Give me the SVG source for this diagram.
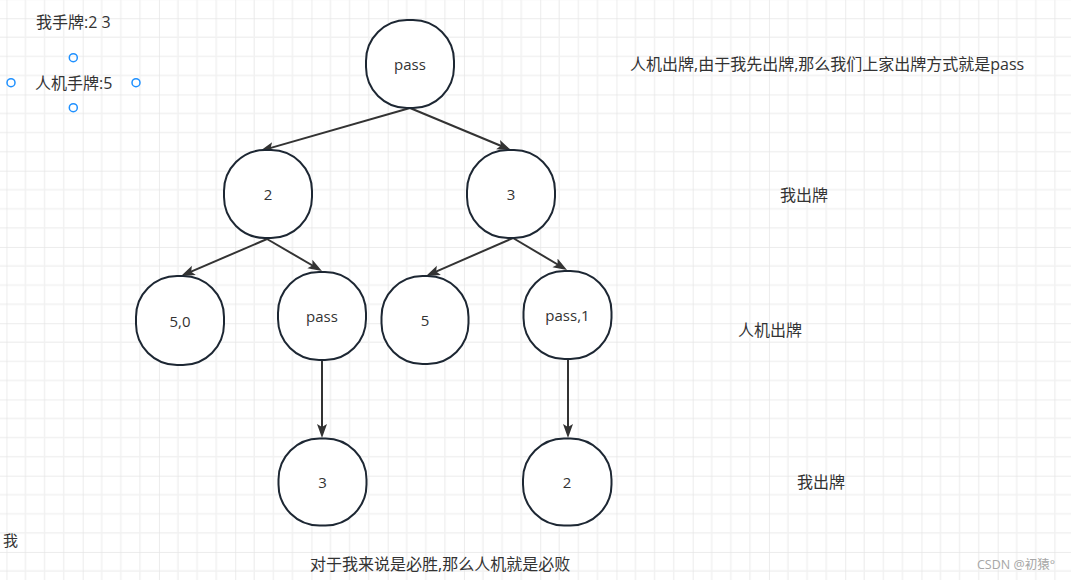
<svg xmlns="http://www.w3.org/2000/svg" width="1071" height="580" viewBox="0 0 1071 580">
  <defs>
    <pattern id="grid" patternUnits="userSpaceOnUse" x="6.45" y="18.2" width="76.25" height="76.25">
      <g stroke="#f1f1f1" stroke-width="1.5">
        <line x1="19.06" y1="0" x2="19.06" y2="76.25"/>
        <line x1="38.12" y1="0" x2="38.12" y2="76.25"/>
        <line x1="57.19" y1="0" x2="57.19" y2="76.25"/>
        <line x1="0" y1="19.06" x2="76.25" y2="19.06"/>
        <line x1="0" y1="38.12" x2="76.25" y2="38.12"/>
        <line x1="0" y1="57.19" x2="76.25" y2="57.19"/>
      </g>
      <g stroke="#e6e6e6" stroke-width="1.5">
        <line x1="0" y1="0" x2="0" y2="76.25"/>
        <line x1="0" y1="0" x2="76.25" y2="0"/>
      </g>
    </pattern>
    <marker id="arrow" markerUnits="userSpaceOnUse" markerWidth="16" markerHeight="12" viewBox="0 0 16 12" refX="10" refY="6" orient="auto">
      <path d="M0,1 L14,6 L0,11 L3,6 Z" fill="#333333"/>
    </marker>
  </defs>
  <style>
    text { font-family: "Open Sans", "Noto Sans CJK SC", sans-serif; fill: #333333; }
    .node rect { fill: #ffffff; stroke: #1d2733; stroke-width: 2; }
    .node text { font-size: 15px; text-anchor: middle; dominant-baseline: central; }
    .label { font-size: 16px; dominant-baseline: central; }
    .edge { stroke: #333333; stroke-width: 2; fill: none; marker-end: url(#arrow); }
    .handle { fill: none; stroke: #1e90ff; stroke-width: 1.5; }
  </style>

  <rect x="0" y="0" width="1071" height="580" fill="#ffffff"/>
  <rect x="0" y="0" width="1071" height="580" fill="url(#grid)"/>

  <g id="connectors">
    <line class="edge" x1="410" y1="108" x2="263.85" y2="149.9"/>
    <line class="edge" x1="410" y1="108" x2="507.3" y2="148.5"/>
    <line class="edge" x1="267" y1="239" x2="184.7" y2="274.4"/>
    <line class="edge" x1="267" y1="239" x2="318.5" y2="269"/>
    <line class="edge" x1="513" y1="238" x2="429.7" y2="274.4"/>
    <line class="edge" x1="513" y1="238" x2="563.6" y2="268"/>
    <line class="edge" x1="322" y1="360" x2="322" y2="434"/>
    <line class="edge" x1="568" y1="359" x2="568" y2="434"/>
  </g>

  <g id="node-root" class="node">
    <rect x="366" y="20" width="88" height="88" rx="41"/>
    <text x="410" y="64">pass</text>
  </g>
  <g id="node-2" class="node">
    <rect x="224" y="150" width="88" height="88" rx="41"/>
    <text x="268" y="194">2</text>
  </g>
  <g id="node-3" class="node">
    <rect x="467" y="150" width="88" height="88" rx="41"/>
    <text x="511" y="194">3</text>
  </g>
  <g id="node-50" class="node">
    <rect x="136" y="276" width="88" height="89" rx="41"/>
    <text x="180" y="320.5">5,0</text>
  </g>
  <g id="node-pass" class="node">
    <rect x="278" y="272" width="88" height="88" rx="41"/>
    <text x="322" y="316">pass</text>
  </g>
  <g id="node-5" class="node">
    <rect x="381.5" y="276" width="87" height="88" rx="41"/>
    <text x="425" y="320">5</text>
  </g>
  <g id="node-pass1" class="node">
    <rect x="523.5" y="271" width="88" height="88" rx="41"/>
    <text x="567.5" y="315">pass,1</text>
  </g>
  <g id="node-3b" class="node">
    <rect x="278.5" y="438.5" width="88" height="87" rx="41"/>
    <text x="322.5" y="482">3</text>
  </g>
  <g id="node-2b" class="node">
    <rect x="523" y="438.5" width="88.5" height="87" rx="41"/>
    <text x="567" y="482">2</text>
  </g>

  <g id="labels">
    <text class="label" x="36" y="22">我手牌:2 3</text>
    <text class="label" x="35" y="83">人机手牌:5</text>
    <text class="label" x="630" y="64">人机出牌,由于我先出牌,那么我们上家出牌方式就是pass</text>
    <text class="label" x="780" y="195">我出牌</text>
    <text class="label" x="738" y="330">人机出牌</text>
    <text class="label" x="797" y="482">我出牌</text>
    <text class="label" x="310" y="564">对于我来说是必胜,那么人机就是必败</text>
    <text class="label" x="3" y="540" style="font-size:15px">我</text>
    <text x="977" y="564" style="font-size:12.5px; fill:#a6a6a6; dominant-baseline:central">CSDN @初猿°</text>
  </g>

  <g id="handles">
    <circle class="handle" cx="73.3" cy="57.7" r="4"/>
    <circle class="handle" cx="11" cy="82.7" r="4"/>
    <circle class="handle" cx="136" cy="82.7" r="4"/>
    <circle class="handle" cx="73.3" cy="107.7" r="4"/>
  </g>
</svg>
